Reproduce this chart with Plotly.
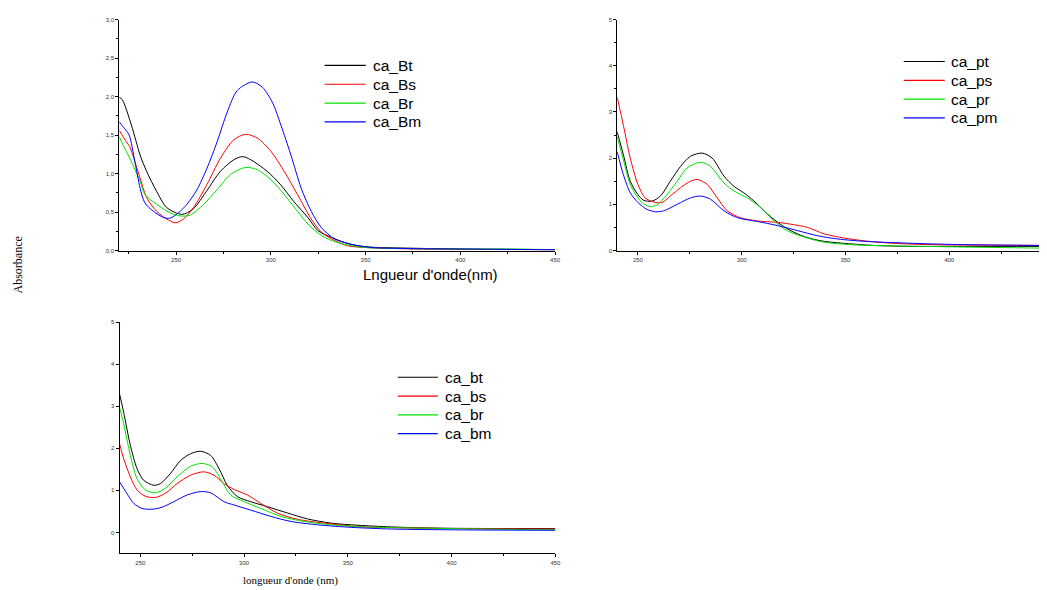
import plotly.graph_objects as go

# ---------------- Panel 1 (top-left) ----------------
bt_x = [220, 221.6, 226.4, 231, 234.4, 239.7, 245, 253, 259, 266, 273.4, 280.5, 285, 289.4, 298, 305, 312, 319.5, 324.8, 332, 340.8, 349.6, 375, 400, 425, 450]
bt_y = [1.99, 1.96, 1.63, 1.24, 1.03, 0.77, 0.56, 0.47, 0.54, 0.77, 1.03, 1.18, 1.22, 1.18, 1.03, 0.86, 0.64, 0.43, 0.26, 0.17, 0.09, 0.05, 0.03, 0.02, 0.015, 0.01]
bs_x = [220, 223.8, 225.5, 231, 234.4, 239.7, 245, 249.5, 253.9, 259.2, 266.3, 273.4, 280.5, 286.7, 292.9, 300, 307, 314, 321.3, 326.6, 333.7, 340.8, 349.6, 375, 400, 450]
bs_y = [1.56, 1.41, 1.35, 0.94, 0.69, 0.51, 0.41, 0.36, 0.41, 0.56, 0.86, 1.2, 1.44, 1.51, 1.46, 1.29, 1.03, 0.73, 0.41, 0.24, 0.13, 0.06, 0.04, 0.02, 0.015, 0.01]
br_x = [220, 222, 225.5, 231, 233.5, 239.7, 246.8, 252, 257.4, 264.5, 271.6, 278.7, 286.7, 292.9, 300, 307, 314, 321.3, 328.4, 337.2, 349.6, 375, 400, 430, 450]
br_y = [1.48, 1.37, 1.2, 0.9, 0.73, 0.6, 0.49, 0.45, 0.46, 0.6, 0.79, 0.99, 1.08, 1.05, 0.92, 0.73, 0.51, 0.3, 0.17, 0.09, 0.04, 0.025, 0.02, 0.02, 0.01]
bm_x = [220, 222, 225.2, 228.2, 231, 233.5, 238, 243.3, 246.8, 251.2, 255.7, 261, 266.3, 271.6, 277, 282.3, 290.2, 295.6, 300.9, 305.3, 310.6, 316, 321.3, 326.6, 333.7, 342.6, 353, 375, 400, 450]
bm_y = [1.67, 1.61, 1.5, 1.16, 0.81, 0.62, 0.51, 0.43, 0.42, 0.49, 0.6, 0.79, 1.07, 1.41, 1.8, 2.08, 2.19, 2.12, 1.92, 1.63, 1.24, 0.81, 0.51, 0.3, 0.15, 0.08, 0.04, 0.025, 0.02, 0.01]

# ---------------- Panel 2 (top-right) ----------------
pt_x = [240, 243, 246.3, 250, 252.7, 256.8, 260.8, 265.6, 270.5, 275.3, 281, 285.8, 291.5, 296.3, 301, 306, 312.4, 318.9, 323.7, 330.2, 338.2, 348, 364, 380, 404, 448]
pt_y = [2.57, 2.07, 1.5, 1.21, 1.09, 1.07, 1.18, 1.5, 1.82, 2.04, 2.11, 2.0, 1.61, 1.39, 1.25, 1.07, 0.79, 0.56, 0.43, 0.3, 0.21, 0.16, 0.11, 0.09, 0.09, 0.09]
ps_x = [240, 243, 246.3, 250, 253.5, 257.6, 261.6, 265.6, 270.5, 275.3, 278.5, 283.4, 288.2, 293, 299.5, 307.6, 317.3, 323.7, 331.8, 339.8, 349.5, 359, 372, 388, 448]
ps_y = [3.32, 2.71, 2.0, 1.43, 1.14, 1.05, 1.04, 1.18, 1.36, 1.5, 1.54, 1.43, 1.14, 0.86, 0.71, 0.64, 0.61, 0.57, 0.5, 0.36, 0.27, 0.21, 0.16, 0.13, 0.11]
pr_x = [240, 243, 246.3, 250, 252.7, 256, 259.2, 264, 268.9, 273.7, 280.2, 285, 291.5, 296.3, 302.7, 309.2, 315.6, 322, 330.2, 339.8, 356, 388, 448]
pr_y = [2.46, 1.96, 1.43, 1.14, 1.01, 0.95, 0.99, 1.21, 1.5, 1.79, 1.91, 1.82, 1.46, 1.29, 1.14, 0.93, 0.64, 0.43, 0.29, 0.18, 0.12, 0.09, 0.05]
pm_x = [240, 243, 246.3, 250, 254.4, 258.4, 262.4, 268.9, 275.3, 280.2, 285, 291.5, 298, 307.6, 317.3, 327, 336.6, 346.3, 359, 380, 404, 448]
pm_y = [2.14, 1.64, 1.25, 1.04, 0.89, 0.84, 0.86, 1.0, 1.14, 1.18, 1.11, 0.86, 0.71, 0.63, 0.54, 0.43, 0.32, 0.25, 0.2, 0.16, 0.13, 0.11]

# ---------------- Panel 3 (bottom-left) ----------------
b_bt_x = [240, 242, 245.2, 248.4, 251.6, 256.5, 259.7, 264.5, 269.4, 274.2, 279, 283.9, 287.9, 291.9, 296.8, 303.2, 311.3, 321, 330.6, 342, 354.8, 371, 395, 450]
b_bt_y = [3.29, 2.85, 2.07, 1.52, 1.24, 1.12, 1.16, 1.4, 1.71, 1.87, 1.93, 1.83, 1.52, 1.12, 0.85, 0.73, 0.61, 0.46, 0.32, 0.22, 0.17, 0.13, 0.1, 0.09]
b_bs_x = [240, 242, 245.2, 248.4, 252.4, 257.3, 262.1, 267.7, 274.2, 280.6, 285.5, 290.3, 295.2, 301.6, 308, 316, 325.8, 338.7, 354.8, 387, 450]
b_bs_y = [2.11, 1.75, 1.32, 1.01, 0.86, 0.83, 0.93, 1.16, 1.36, 1.44, 1.36, 1.16, 1.02, 0.89, 0.69, 0.46, 0.31, 0.22, 0.14, 0.1, 0.08]
b_br_x = [240, 242, 245.2, 248.4, 252.4, 257.3, 262.1, 267.7, 274.2, 279.8, 284.7, 289.5, 293.5, 300, 308, 317.7, 329, 342, 358, 387, 450]
b_br_y = [2.97, 2.58, 1.83, 1.28, 1.01, 0.94, 1.05, 1.32, 1.57, 1.64, 1.56, 1.2, 0.89, 0.73, 0.57, 0.38, 0.26, 0.18, 0.13, 0.1, 0.06]
b_bm_x = [240, 243.5, 246.8, 250.8, 255.6, 260.5, 266.1, 272.6, 279, 283.9, 290.3, 295.2, 303.2, 312.9, 322.6, 335.5, 351.6, 371, 403, 450]
b_bm_y = [1.2, 0.93, 0.69, 0.57, 0.55, 0.6, 0.73, 0.89, 0.97, 0.94, 0.73, 0.65, 0.53, 0.38, 0.26, 0.18, 0.12, 0.08, 0.06, 0.05]

names1 = ["ca_Bt", "ca_Bs", "ca_Br", "ca_Bm"]
names2 = ["ca_pt", "ca_ps", "ca_pr", "ca_pm"]
names3 = ["ca_bt", "ca_bs", "ca_br", "ca_bm"]
colors = ["#000000", "#ff0000", "#00e000", "#0000ff"]

panels = [
    ([(bt_x, bt_y), (bs_x, bs_y), (br_x, br_y), (bm_x, bm_y)], names1, "x", "y"),
    ([(pt_x, pt_y), (ps_x, ps_y), (pr_x, pr_y), (pm_x, pm_y)], names2, "x2", "y2"),
    ([(b_bt_x, b_bt_y), (b_bs_x, b_bs_y), (b_br_x, b_br_y), (b_bm_x, b_bm_y)], names3, "x3", "y3"),
]

fig = go.Figure()
for series, names, xa, ya in panels:
    for (x, y), name, color in zip(series, names, colors):
        fig.add_trace(go.Scatter(x=x, y=y, name=name, mode="lines",
                                 line=dict(color=color, width=1, shape="spline", smoothing=0.8),
                                 xaxis=xa, yaxis=ya, showlegend=False))

W, H = 1047, 590
OFF = 8                 # page body margin
SX = 1055 / 1047        # horizontal fit-to-window compensation
def px(v): return (v * SX - OFF) / W
def py(v): return 1 - (v - OFF) / H

tickfont = dict(family="Liberation Sans, Arial", size=6, color="#333333")
common = dict(showline=True, linecolor="black", linewidth=1, ticks="outside",
              ticklen=3, tickcolor="black", tickwidth=1, showgrid=False,
              zeroline=False, tickfont=tickfont, mirror=False)

# manual legends (sample line + label) positioned like the original
legend_specs = [
    (names1, 324, 365, 370, 63),
    (names2, 902, 943, 947, 59),
    (names3, 397, 437, 442, 378),
]
shapes, annotations = [], []
for names, lx0, lx1, tx, ty0 in legend_specs:
    for i, (name, color) in enumerate(zip(names, colors)):
        yy = ty0 + i * 19
        shapes.append(dict(type="line", xref="paper", yref="paper",
                           x0=px(lx0), x1=px(lx1), y0=py(yy), y1=py(yy),
                           line=dict(color=color, width=1.2)))
        annotations.append(dict(text=name, x=px(tx), y=py(yy), xref="paper", yref="paper",
                                xanchor="left", yanchor="middle", showarrow=False,
                                font=dict(family="Liberation Sans, Arial", size=15.5, color="black")))

annotations += [
    dict(text="Lngueur d'onde(nm)", x=px(430), y=py(274), xref="paper", yref="paper",
         xanchor="center", yanchor="middle", showarrow=False,
         font=dict(family="Liberation Sans, Arial", size=15, color="black")),
    dict(text="longueur d'onde (nm)", x=px(290), y=py(583), xref="paper", yref="paper",
         xanchor="center", yanchor="middle", showarrow=False,
         font=dict(family="Liberation Serif, Times New Roman", size=11, color="black")),
    dict(text="Absorbance", x=px(18), y=py(265), xref="paper", yref="paper", textangle=-90,
         xanchor="center", yanchor="middle", showarrow=False,
         font=dict(family="Liberation Serif, Times New Roman", size=12, color="black")),
]

fig.update_layout(
    width=W, height=H, margin=dict(l=0, r=0, t=0, b=0),
    paper_bgcolor="white", plot_bgcolor="white",
    separators=",.",
    showlegend=False,
    xaxis=dict(domain=[px(119), px(554)], range=[220, 450], dtick=50, tick0=250,
               minor=dict(ticks="outside", ticklen=2, dtick=25, tick0=225, tickcolor="black"),
               anchor="y", **common),
    yaxis=dict(domain=[py(250), py(16.7)], range=[0, 3], dtick=0.5, tickformat=".1f",
               minor=dict(ticks="outside", ticklen=2, dtick=0.25, tickcolor="black"),
               anchor="x", **common),
    xaxis2=dict(domain=[px(616), min(1.0, px(1047))], range=[240, 448.1], dtick=50, tick0=250,
                minor=dict(ticks="outside", ticklen=2, dtick=25, tick0=225, tickcolor="black"),
                anchor="y2", **common),
    yaxis2=dict(domain=[py(250), py(16.7)], range=[0, 5], dtick=1,
                minor=dict(ticks="outside", ticklen=2, dtick=0.5, tickcolor="black"),
                anchor="x2", **common),
    xaxis3=dict(domain=[px(119.3), px(554.3)], range=[240, 450], dtick=50, tick0=250,
                minor=dict(ticks="outside", ticklen=2, dtick=25, tick0=225, tickcolor="black"),
                anchor="y3", **common),
    yaxis3=dict(domain=[py(556), py(322.3)], range=[-0.5, 5], dtick=1, tick0=0,
                anchor="x3", **common),
    shapes=shapes,
    annotations=annotations,
)

fig.write_html("out.html")
